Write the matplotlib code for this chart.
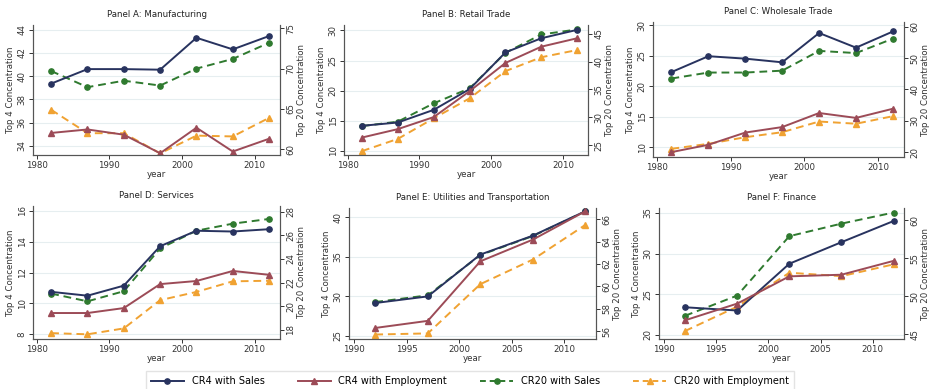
import matplotlib
matplotlib.use("Agg")
import matplotlib.pyplot as plt
from matplotlib.lines import Line2D

years_long = [1982, 1987, 1992, 1997, 2002, 2007, 2012]
years_short = [1992, 1997, 2002, 2007, 2012]

# Panel A: Manufacturing
a_cr4_sales = [39.35, 40.6, 40.6, 40.55, 43.3, 42.3, 43.45]
a_cr4_emp = [35.1, 35.4, 34.95, 33.35, 35.55, 33.5, 34.6]
a_cr20_sales = [69.7, 67.7, 68.5, 67.9, 70.0, 71.2, 73.2]
a_cr20_emp = [64.9, 62.0, 62.0, 59.5, 61.7, 61.6, 63.9]

# Panel B: Retail Trade
b_cr4_sales = [14.15, 14.7, 16.8, 20.25, 26.35, 28.7, 30.1]
b_cr4_emp = [12.2, 13.6, 15.6, 19.9, 24.6, 27.3, 28.7]
b_cr20_sales = [28.4, 29.2, 32.5, 35.2, 41.6, 44.9, 45.8]
b_cr20_emp = [23.9, 26.1, 29.8, 33.4, 38.3, 40.8, 42.1]

# Panel C: Wholesale Trade
c_cr4_sales = [22.3, 24.9, 24.5, 23.9, 28.7, 26.3, 28.95]
c_cr4_emp = [9.2, 10.4, 12.4, 13.3, 15.6, 14.8, 16.3]
c_cr20_sales = [43.5, 45.4, 45.4, 46.0, 52.3, 51.6, 56.2]
c_cr20_emp = [21.1, 22.7, 24.8, 26.4, 29.8, 29.1, 31.5]

# Panel D: Services
d_cr4_sales = [10.75, 10.5, 11.15, 13.7, 14.7, 14.65, 14.8]
d_cr4_emp = [9.38, 9.38, 9.7, 11.25, 11.45, 12.1, 11.85]
d_cr20_sales = [21.06, 20.4, 21.26, 24.9, 26.4, 27.0, 27.4]
d_cr20_emp = [17.7, 17.6, 18.1, 20.5, 21.2, 22.1, 22.15]

# Panel E: Utilities and Transportation
e_cr4_sales = [29.16, 30.0, 35.3, 37.7, 40.8]
e_cr4_emp = [26.0, 26.9, 34.45, 37.2, 40.8]
e_cr20_sales = [58.6, 59.2, 62.8, 64.5, 66.7]
e_cr20_emp = [55.7, 55.8, 60.2, 62.4, 65.5]

# Panel F: Finance
f_cr4_sales = [23.4, 23.0, 28.75, 31.4, 34.0]
f_cr4_emp = [21.8, 23.85, 27.2, 27.4, 29.1]
f_cr20_sales = [47.45, 50.1, 57.9, 59.55, 61.0]
f_cr20_emp = [45.45, 48.65, 53.1, 52.65, 54.2]

labels = ["CR4 with Sales", "CR4 with Employment", "CR20 with Sales", "CR20 with Employment"]
c_navy = "#28335f"
c_maroon = "#9c4b57"
c_green = "#2f7a2f"
c_orange = "#f0a232"
grid_c = "#e6eef0"
spine_c = "#555555"

W, H = 931, 389
fig = plt.figure(figsize=(W / 100, H / 100), dpi=100)

panels = [
    ("Panel A: Manufacturing", years_long, a_cr4_sales, a_cr4_emp, a_cr20_sales, a_cr20_emp,
     (33, 25, 280, 155), (33.2, 44.4), [34, 36, 38, 40, 42, 44], (59.3, 75.4), [60, 65, 70, 75],
     (1979.5, 2013.5), [1980, 1990, 2000, 2010]),
    ("Panel B: Retail Trade", years_long, b_cr4_sales, b_cr4_emp, b_cr20_sales, b_cr20_emp,
     (344, 25, 588, 155), (9.3, 30.9), [10, 15, 20, 25, 30], (23.2, 46.6), [25, 30, 35, 40, 45],
     (1979.5, 2013.5), [1980, 1990, 2000, 2010]),
    ("Panel C: Wholesale Trade", years_long, c_cr4_sales, c_cr4_emp, c_cr20_sales, c_cr20_emp,
     (653, 22, 904, 157), (8.4, 30.5), [10, 15, 20, 25, 30], (18.5, 61.5), [20, 30, 40, 50, 60],
     (1979.5, 2013.5), [1980, 1990, 2000, 2010]),
    ("Panel D: Services", years_long, d_cr4_sales, d_cr4_emp, d_cr20_sales, d_cr20_emp,
     (33, 206, 280, 339), (7.7, 16.3), [8, 10, 12, 14, 16], (17.2, 28.5), [18, 20, 22, 24, 26, 28],
     (1979.5, 2013.5), [1980, 1990, 2000, 2010]),
    ("Panel E: Utilities and Transportation", years_short, e_cr4_sales, e_cr4_emp, e_cr20_sales, e_cr20_emp,
     (349, 208, 596, 339), (24.6, 41.2), [25, 30, 35, 40], (55.3, 67.0), [56, 58, 60, 62, 64, 66],
     (1989.5, 2013), [1990, 1995, 2000, 2005, 2010]),
    ("Panel F: Finance", years_short, f_cr4_sales, f_cr4_emp, f_cr20_sales, f_cr20_emp,
     (659, 208, 904, 339), (19.5, 35.6), [20, 25, 30, 35], (44.4, 61.6), [45, 50, 55, 60],
     (1989.5, 2013), [1990, 1995, 2000, 2005, 2010]),
]

fs = 6.2
for (title, yrs, s4, e4, s20, e20, box, ylim, yt, y2lim, y2t, xlim, xt) in panels:
    x0, y0, x1, y1 = box
    ax = fig.add_axes([x0 / W, 1 - y1 / H, (x1 - x0) / W, (y1 - y0) / H])
    ax2 = ax.twinx()
    ax.set_zorder(ax2.get_zorder() + 1)
    ax.patch.set_visible(False)

    ax.plot(yrs, s4, color=c_navy, marker="o", ms=3.8, lw=1.4)
    ax.plot(yrs, e4, color=c_maroon, marker="^", ms=4, lw=1.4)
    ax2.plot(yrs, s20, color=c_green, marker="o", ms=3.8, lw=1.4, ls=(0, (4, 2.5)))
    ax2.plot(yrs, e20, color=c_orange, marker="^", ms=4, lw=1.4, ls=(0, (4, 2.5)))

    ax.set_xlim(*xlim)
    ax.set_xticks(xt)
    ax.set_ylim(*ylim)
    ax.set_yticks(yt, [str(v) for v in yt], rotation=90, va="center")
    ax2.set_ylim(*y2lim)
    ax2.set_yticks(y2t, [str(v) for v in y2t], rotation=90, va="center")
    for t in yt:
        ax2.axhline(ax2.transData.inverted().transform(ax.transData.transform((0, t)))[1],
                    color=grid_c, lw=0.8, zorder=0)

    for a in (ax, ax2):
        a.spines["top"].set_visible(False)
        for s in ("left", "right", "bottom"):
            a.spines[s].set_color(spine_c)
            a.spines[s].set_linewidth(0.8)
        a.tick_params(labelsize=fs, colors="#333333", length=3, width=0.7, pad=1.5)

    ax.set_title(title, fontsize=fs, color="#222222", pad=6)
    ax.set_xlabel("year", fontsize=fs, color="#333333", labelpad=0)
    ax.set_ylabel("Top 4 Concentration", fontsize=fs, color="#333333", labelpad=2)
    ax2.set_ylabel("Top 20 Concentration", fontsize=fs, color="#333333", labelpad=1)

handles = [
    Line2D([], [], color=c_navy, marker="o", ms=3.8, lw=1.4),
    Line2D([], [], color=c_maroon, marker="^", ms=4, lw=1.4),
    Line2D([], [], color=c_green, marker="o", ms=3.8, lw=1.4, ls=(0, (3, 2))),
    Line2D([], [], color=c_orange, marker="^", ms=4, lw=1.4, ls=(0, (3, 2))),
]
fig.legend(handles, labels, loc="center", bbox_to_anchor=(470 / W, 1 - 381 / H), ncol=4,
           fontsize=7, frameon=True, edgecolor="#dddddd", fancybox=False,
           handlelength=3.4, columnspacing=3.4, borderpad=0.5)

fig.savefig("out.png", dpi=100)
